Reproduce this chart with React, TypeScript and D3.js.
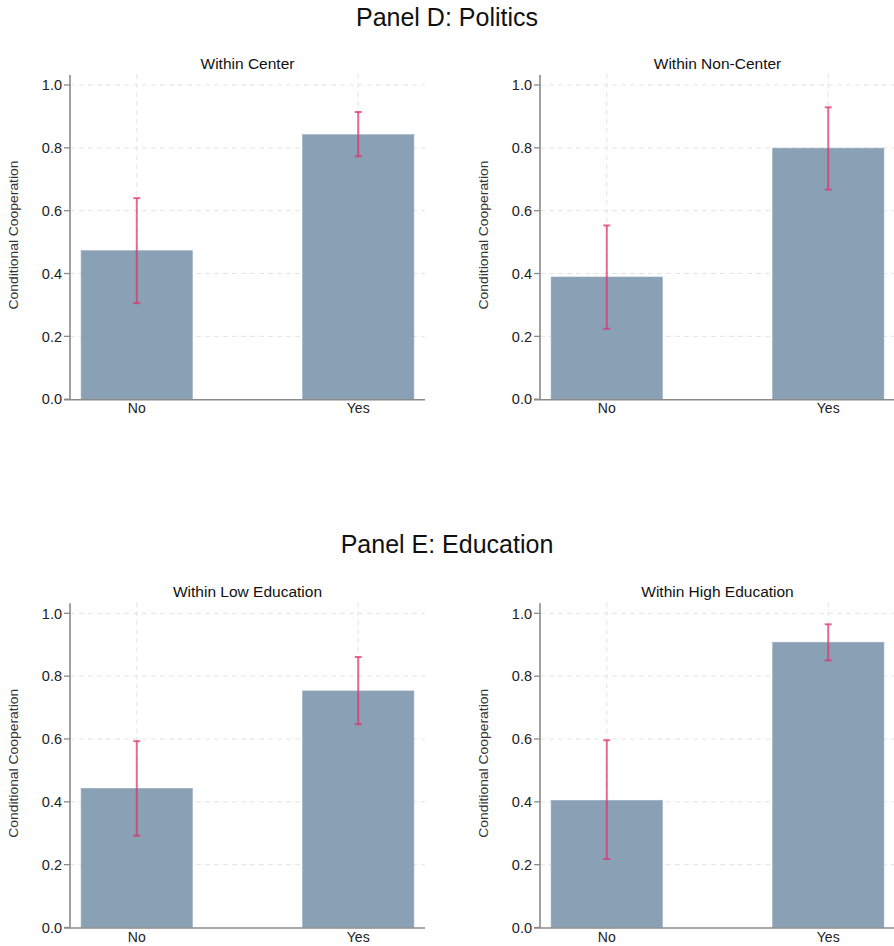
import React from "react";
import * as d3 from "d3";

const categories = ["No", "Yes"];
const sectionTitles = ["Panel D: Politics", "Panel E: Education"];
const panelTitles = ["Within Center", "Within Non-Center", "Within Low Education", "Within High Education"];
const meanValues = [
  [0.473, 0.842],
  [0.389, 0.799],
  [0.443, 0.753],
  [0.405, 0.908],
];
const lowerCI = [
  [0.306, 0.773],
  [0.224, 0.667],
  [0.292, 0.647],
  [0.218, 0.85],
];
const upperCI = [
  [0.64, 0.914],
  [0.553, 0.929],
  [0.593, 0.861],
  [0.596, 0.965],
];
const yTicks = [0, 0.2, 0.4, 0.6, 0.8, 1.0];
const yAxisTitle = "Conditional Cooperation";

const W = 894;
const H = 946;
const FONT = "'Liberation Sans', Arial, Helvetica, sans-serif";
const BAR = "#8aa0b5";
const ERR = "#e0306c";
const AXIS = "#8a8a8a";
const GRID = "#e4e4e4";

const panelX = [70, 540];
const panelY1 = [85, 613.3];
const plotW = 355;
const plotH = 314.2;

function Panel({ idx }: { idx: number }) {
  const x0 = panelX[idx % 2];
  const yTop = panelY1[Math.floor(idx / 2)];
  const y = d3.scaleLinear().domain([0, 1]).range([yTop + plotH, yTop]);
  const x = d3
    .scaleBand<string>()
    .domain(categories)
    .range([x0, x0 + plotW])
    .paddingInner(0.497)
    .paddingOuter(0.05);
  const bw = x.bandwidth();
  const center = (c: string) => (x(c) as number) + bw / 2;
  const base = y(0);
  return (
    <g>
      <text
        x={x0 + plotW / 2}
        y={yTop - 16}
        textAnchor="middle"
        fontFamily={FONT}
        fontSize={15.5}
        fill="#111"
      >
        {panelTitles[idx]}
      </text>
      {/* grid */}
      {yTicks.slice(1).map((t) => (
        <line
          key={"h" + t}
          x1={x0}
          x2={x0 + plotW}
          y1={y(t)}
          y2={y(t)}
          stroke={GRID}
          strokeWidth={1}
          strokeDasharray="5,4"
        />
      ))}
      {categories.map((c) => (
        <line
          key={"v" + c}
          x1={center(c)}
          x2={center(c)}
          y1={y(1.035)}
          y2={base}
          stroke={GRID}
          strokeWidth={1}
          strokeDasharray="5,4"
        />
      ))}
      {/* bars */}
      {categories.map((c, i) => (
        <rect
          key={"b" + c}
          x={x(c)}
          y={y(meanValues[idx][i])}
          width={bw}
          height={base - y(meanValues[idx][i])}
          fill={BAR}
          stroke="#9cb0c3"
          strokeWidth={0.6}
        />
      ))}
      {/* error bars */}
      {categories.map((c, i) => {
        const cx = center(c);
        const lo = y(lowerCI[idx][i]);
        const hi = y(upperCI[idx][i]);
        return (
          <g key={"e" + c} stroke={ERR} strokeOpacity={0.72} strokeWidth={2}>
            <line x1={cx} x2={cx} y1={lo} y2={hi} />
            <line x1={cx - 3.5} x2={cx + 3.5} y1={lo} y2={lo} />
            <line x1={cx - 3.5} x2={cx + 3.5} y1={hi} y2={hi} />
          </g>
        );
      })}
      {/* axes */}
      <line x1={x0} x2={x0} y1={y(1.032)} y2={base} stroke={AXIS} strokeWidth={1.6} />
      <line x1={x0 - 6} x2={x0 + plotW} y1={base + 0.5} y2={base + 0.5} stroke={AXIS} strokeWidth={1.6} />
      {yTicks.map((t) => (
        <g key={"t" + t}>
          <line x1={x0 - 6} x2={x0} y1={y(t)} y2={y(t)} stroke={AXIS} strokeWidth={1.3} />
          <text
            x={x0 - 8}
            y={y(t)}
            dy="0.36em"
            textAnchor="end"
            fontFamily={FONT}
            fontSize={14.5}
            fill="#222"
          >
            {d3.format(".1f")(t)}
          </text>
        </g>
      ))}
      {categories.map((c) => (
        <text
          key={"x" + c}
          x={center(c)}
          y={base + 14}
          textAnchor="middle"
          fontFamily={FONT}
          fontSize={14}
          fill="#222"
        >
          {c}
        </text>
      ))}
      <text
        transform={`translate(${x0 - 56},${yTop + 150}) rotate(-90)`}
        textAnchor="middle"
        dominantBaseline="central"
        fontFamily={FONT}
        fontSize={12.5}
        fill="#333"
        textLength={149}
        lengthAdjust="spacingAndGlyphs"
      >
        {yAxisTitle}
      </text>
    </g>
  );
}

export default function App() {
  return (
    <svg
      width={W}
      height={H}
      viewBox={`0 0 ${W} ${H}`}
      style={{ position: "absolute", left: 0, top: 0, background: "#fff" }}
    >
      <rect width={W} height={H} fill="#fff" />
      <text x={447} y={26} textAnchor="middle" fontFamily={FONT} fontSize={25} fill="#111">
        {sectionTitles[0]}
      </text>
      <text x={447} y={553} textAnchor="middle" fontFamily={FONT} fontSize={25} fill="#111">
        {sectionTitles[1]}
      </text>
      {[0, 1, 2, 3].map((i) => (
        <Panel key={i} idx={i} />
      ))}
    </svg>
  );
}
